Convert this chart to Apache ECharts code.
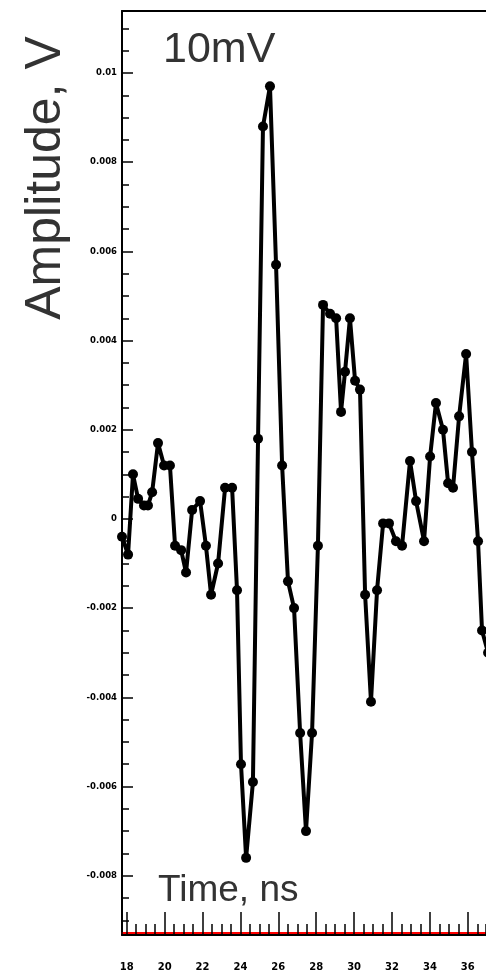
<!DOCTYPE html>
<html>
<head>
<meta charset="utf-8">
<script src="https://cdn.jsdelivr.net/npm/echarts@6/dist/echarts.min.js"></script>
<style>html,body{margin:0;padding:0;background:#fff;}#c{width:486px;height:980px;}</style>
</head>
<body>
<div id="c"></div>
<script>
// time (ns) of each sample
var times = [17.75,18.07,18.33,18.60,18.91,19.12,19.34,19.65,19.97,20.28,20.55,20.87,21.13,21.45,21.87,22.18,22.45,22.82,23.19,23.56,23.82,24.03,24.30,24.66,24.93,25.19,25.56,25.88,26.20,26.51,26.83,27.15,27.46,27.78,28.09,28.36,28.73,29.05,29.31,29.52,29.78,30.05,30.31,30.58,30.89,31.21,31.53,31.84,32.21,32.53,32.95,33.27,33.69,34.01,34.32,34.69,34.96,35.22,35.54,35.91,36.22,36.54,36.75,37.07];
// amplitude (V) of each sample
var amps = [-0.0004,-0.0008,0.001,0.00045,0.0003,0.0003,0.0006,0.0017,0.0012,0.0012,-0.0006,-0.0007,-0.0012,0.0002,0.0004,-0.0006,-0.0017,-0.001,0.0007,0.0007,-0.0016,-0.0055,-0.0076,-0.0059,0.0018,0.0088,0.0097,0.0057,0.0012,-0.0014,-0.002,-0.0048,-0.007,-0.0048,-0.0006,0.0048,0.0046,0.0045,0.0024,0.0033,0.0045,0.0031,0.0029,-0.0017,-0.0041,-0.0016,-0.0001,-0.0001,-0.0005,-0.0006,0.0013,0.0004,-0.0005,0.0014,0.0026,0.002,0.0008,0.0007,0.0023,0.0037,0.0015,-0.0005,-0.0025,-0.003];
var xRange = [17.75, 36.96];
var yRange = [-0.00933, 0.01139];
var yTitle = 'Amplitude, V';
var xTitle = 'Time, ns';
var noteText = '10mV';

var pts = times.map(function(t,i){return [t, amps[i]];});
var chart = echarts.init(document.getElementById('c'), null, {renderer:'canvas'});
var tf = 'DejaVu Sans';
chart.setOption({
  animation:false,
  grid:{left:122, top:11, bottom:45, right:0, show:false},
  xAxis:[{
    type:'value', min:xRange[0], max:xRange[1], splitNumber:10, position:'bottom', offset:-2,
    axisLine:{show:true, onZero:false, lineStyle:{color:'#ff0000', width:2}},
    axisTick:{show:true, inside:true, length:21, lineStyle:{color:'#000', width:1.5}},
    axisLabel:{show:true, margin:29, fontSize:10, showMinLabel:false, showMaxLabel:false, fontFamily:tf, fontWeight:'bold', color:'#000'},
    splitLine:{show:false}
  },{
    type:'value', min:xRange[0], max:xRange[1], splitNumber:41, position:'bottom', offset:0,
    axisLine:{show:true, onZero:false, lineStyle:{color:'#000', width:2}},
    axisTick:{show:true, inside:true, length:11, lineStyle:{color:'#000', width:1.5}},
    axisLabel:{show:false}, splitLine:{show:false}
  },{
    type:'value', min:xRange[0], max:xRange[1], position:'top',
    axisLine:{show:true, onZero:false, lineStyle:{color:'#000', width:2}},
    axisTick:{show:false}, axisLabel:{show:false}, splitLine:{show:false}
  }],
  yAxis:[{
    type:'value', min:yRange[0], max:yRange[1], splitNumber:10, position:'left',
    axisLine:{show:true, onZero:false, lineStyle:{color:'#000', width:2}},
    axisTick:{show:true, inside:true, length:11, lineStyle:{color:'#000', width:1.5}},
    axisLabel:{show:true, margin:5, fontSize:8.5, showMinLabel:false, showMaxLabel:false, fontFamily:tf, fontWeight:'bold', color:'#000'},
    splitLine:{show:false}
  },{
    type:'value', min:yRange[0], max:yRange[1], splitNumber:40, position:'left',
    axisLine:{show:false, onZero:false}, axisTick:{show:true, inside:true, length:7, lineStyle:{color:'#000', width:1.5}},
    axisLabel:{show:false}, splitLine:{show:false}
  }],
  graphic:[
    {type:'text', x:163, y:50, style:{text:noteText, font:'43px "Liberation Sans"', fill:'#333', align:'left', verticalAlign:'middle'}},
    {type:'text', x:158, y:891, style:{text:xTitle, font:'37px "Liberation Sans"', fill:'#333', align:'left', verticalAlign:'middle'}},
    {type:'text', x:46, y:178, rotation:Math.PI/2, style:{text:yTitle, font:'50px "Liberation Sans"', fill:'#333', align:'center', verticalAlign:'middle'}}
  ],
  series:[{
    type:'line', xAxisIndex:0, yAxisIndex:0, data:pts, clip:false,
    lineStyle:{color:'#000', width:4}, itemStyle:{color:'#000'},
    symbol:'circle', symbolSize:10, showSymbol:true
  }]
});
</script>
</body>
</html>
